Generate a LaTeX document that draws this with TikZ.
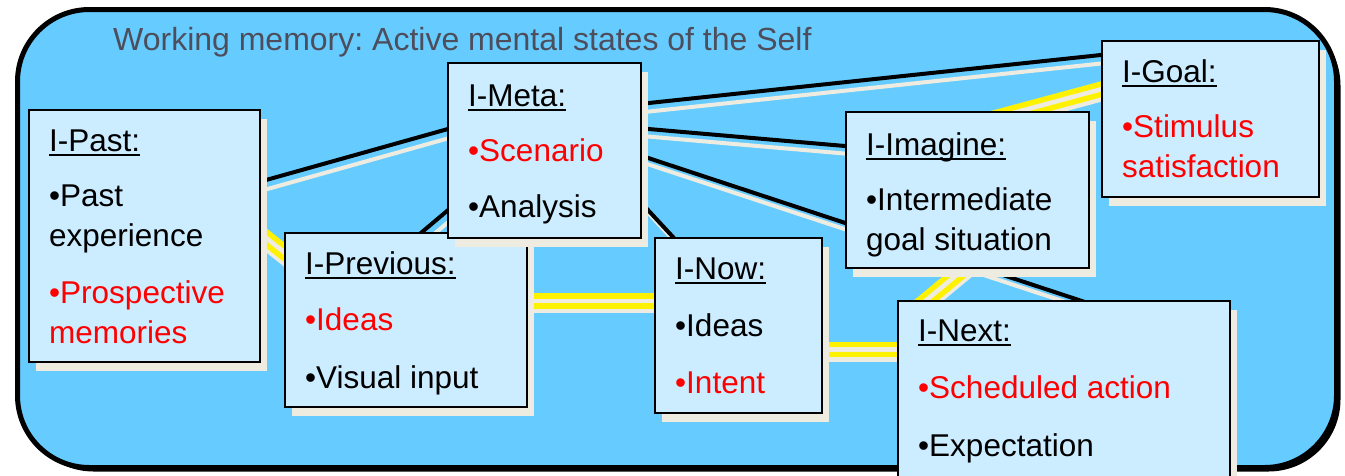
\documentclass[tikz,border=0pt]{standalone}
\usepackage{fontspec}
\setmainfont{Liberation Sans}
\usetikzlibrary{calc,shadows}
\definecolor{wmblue}{HTML}{66CCFF}
\definecolor{boxfill}{HTML}{CCECFF}
\definecolor{shade}{HTML}{EEECE1}
\definecolor{titlegray}{RGB}{77,77,92}
\newcommand\hdul[1]{\setbox0\hbox{#1}\rlap{\rule[-4.5pt]{\wd0}{2pt}}\box0}
\frenchspacing
\pgfdeclarelayer{framelayer}
\pgfdeclarelayer{linelayer}
\pgfsetlayers{framelayer,linelayer,main}
\begin{document}
\begin{tikzpicture}[x=1pt,y=-1pt,
  wmbox/.style={rectangle, draw=black, line width=2.5pt, fill=boxfill, inner sep=0pt, outer sep=0pt, anchor=north west,
    drop shadow={shadow xshift=6.5pt, shadow yshift=-8.5pt, fill=shade, opacity=1}},
  wmtext/.style={anchor=north west, inner sep=0pt, align=left, font=\fontsize{31.5}{40}\selectfont},
  blackconn/.style={draw=black, line width=4pt},
  blackshadow/.style={draw=shade, line width=4pt, transform canvas={shift={(5pt,-8pt)}}},
  yellowconn/.style={draw=yellow, double=shade, line width=5.5pt, double distance=4.5pt},
  yellowshadow/.style={draw=shade, line width=15.5pt, transform canvas={shift={(0pt,-4.5pt)}}}]
\useasboundingbox (0,0) rectangle (1345,475);
% frame
\begin{pgfonlayer}{framelayer}
\fill[black, rounded corners=72pt] (21.5,13.5) rectangle (1340.5,471.5);
\draw[black, line width=5pt, fill=wmblue, rounded corners=72pt] (17.5,9.5) rectangle (1336.5,467.5);
\end{pgfonlayer}
\node[anchor=base west, inner sep=0pt, font=\fontsize{32}{38}\selectfont, text=titlegray] (title) at (113,50) {Working memory: Active mental states of the Self};
% boxes
\node[wmbox, minimum width=231pt, minimum height=252pt] (past) at (29,110) {};
\node[wmbox, minimum width=242pt, minimum height=174pt] (prev) at (285,233) {};
\node[wmbox, minimum width=193pt, minimum height=175pt] (meta) at (448,63) {};
\node[wmbox, minimum width=167pt, minimum height=175pt] (now) at (655,238) {};
\node[wmbox, minimum width=243pt, minimum height=156pt] (imag) at (846,112) {};
\node[wmbox, minimum width=332pt, minimum height=190pt] (next) at (898,301) {};
\node[wmbox, minimum width=217pt, minimum height=156pt] (goal) at (1102,41) {};
% texts
\node[wmtext] (pasttxt) at ($(past.north west)+(20,19.4)$) {\hdul{I-Past:}\\[15.5pt]•Past\\experience\\[17pt]\textcolor{red}{•Prospective}\\\textcolor{red}{memories}};
\node[wmtext] (prevtxt) at ($(prev.north west)+(20,18.4)$) {\hdul{I-Previous:}\\[16pt]\textcolor{red}{•Ideas}\\[18pt]•Visual input};
\node[wmtext] (metatxt) at ($(meta.north west)+(20,21.4)$) {\hdul{I-Meta:}\\[15pt]\textcolor{red}{•Scenario}\\[16pt]•Analysis};
\node[wmtext] (nowtxt) at ($(now.north west)+(20,19.4)$) {\hdul{I-Now:}\\[17pt]•Ideas\\[17pt]\textcolor{red}{•Intent}};
\node[wmtext] (imagtxt) at ($(imag.north west)+(20,20.4)$) {\hdul{I-Imagine:}\\[15pt]•Intermediate\\goal situation};
\node[wmtext] (nexttxt) at ($(next.north west)+(20,18.4)$) {\hdul{I-Next:}\\[17pt]\textcolor{red}{•Scheduled action}\\[18pt]•Expectation};
\node[wmtext] (goaltxt) at ($(goal.north west)+(20,18.4)$) {\hdul{I-Goal:}\\[15pt]\textcolor{red}{•Stimulus}\\\textcolor{red}{satisfaction}};
% connectors
\begin{pgfonlayer}{linelayer}
% shadows
\draw[blackshadow] ($(past.north east)+(-10,74.5)$) -- ($(meta.north west)+(12,62.6)$);
\draw[blackshadow] ($(prev.north west)+(127,7.5)$) -- ($(meta.north west)+(12,137)$);
\draw[blackshadow] ($(meta.north east)+(-11,42)$) -- ($(goal.north west)+(13,12.5)$);
\draw[blackshadow] ($(meta.north east)+(-11,64.4)$) -- ($(imag.north west)+(14,35.3)$);
\draw[blackshadow] ($(meta.north east)+(-11,89)$) -- ($(next.north west)+(202,6)$);
\draw[blackshadow] ($(meta.north east)+(-11,127.6)$) -- ($(now.north west)+(35,17.4)$);
\draw[yellowshadow] ($(past.north east)+(-10,115)$) -- ($(prev.north west)+(15,32)$);
\draw[yellowshadow] ($(prev.north east)+(-7,68)$) -- ($(now.north west)+(10,63)$);
\draw[yellowshadow] ($(now.north east)+(-7,111.5)$) -- ($(next.north west)+(10,48.5)$);
\draw[yellowshadow] ($(next.north west)+(10.4,14)$) -- ($(imag.north west)+(134.7,143)$);
\draw[yellowshadow] ($(imag.north west)+(134,9.9)$) -- ($(goal.north west)+(13,44.5)$);
% lines
\draw[blackconn] ($(past.north east)+(-10,74.5)$) -- ($(meta.north west)+(12,62.6)$);
\draw[blackconn] ($(prev.north west)+(127,7.5)$) -- ($(meta.north west)+(12,137)$);
\draw[blackconn] ($(meta.north east)+(-11,42)$) -- ($(goal.north west)+(13,12.5)$);
\draw[blackconn] ($(meta.north east)+(-11,64.4)$) -- ($(imag.north west)+(14,35.3)$);
\draw[blackconn] ($(meta.north east)+(-11,89)$) -- ($(next.north west)+(202,6)$);
\draw[blackconn] ($(meta.north east)+(-11,127.6)$) -- ($(now.north west)+(35,17.4)$);
\draw[yellowconn] ($(past.north east)+(-10,115)$) -- ($(prev.north west)+(15,32)$);
\draw[yellowconn] ($(prev.north east)+(-7,68)$) -- ($(now.north west)+(10,63)$);
\draw[yellowconn] ($(now.north east)+(-7,111.5)$) -- ($(next.north west)+(10,48.5)$);
\draw[yellowconn] ($(next.north west)+(10.4,14)$) -- ($(imag.north west)+(134.7,143)$);
\draw[yellowconn] ($(imag.north west)+(134,9.9)$) -- ($(goal.north west)+(13,44.5)$);
\end{pgfonlayer}
\end{tikzpicture}
\end{document}
